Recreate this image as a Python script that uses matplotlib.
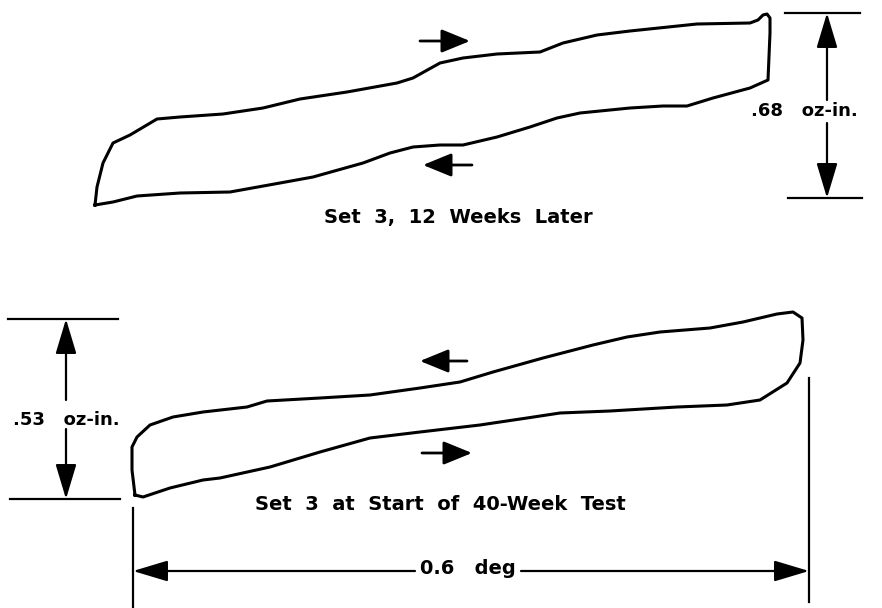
import matplotlib
matplotlib.use("Agg")
import matplotlib.pyplot as plt

# hysteresis loop outlines (pixel coords, y down)
top_loop_x = [95, 97, 103, 113, 130, 157, 180, 223, 263, 300, 347, 397, 413, 440, 463, 497,
              540, 563, 597, 630, 697, 750, 758, 763, 767, 770, 770, 768, 750, 713, 687, 663,
              630, 580, 557, 530, 497, 463, 440, 413, 390, 363, 313, 280, 230, 180, 137, 113, 95]
top_loop_y = [205, 187, 163, 143, 135, 119, 117, 114, 108, 99, 92, 83, 78, 63, 58, 54,
              52, 43, 35, 31, 24, 23, 20, 15, 14, 18, 33, 80, 88, 98, 106, 106,
              108, 113, 118, 127, 137, 145, 145, 147, 153, 163, 177, 183, 192, 193, 196, 202, 205]

bottom_loop_x = [135, 132, 132, 137, 150, 173, 203, 247, 267, 320, 370, 420, 460, 493, 543,
                 593, 627, 660, 710, 743, 777, 793, 802, 803, 800, 787, 760, 727, 677, 610,
                 560, 527, 500, 480, 420, 370, 320, 270, 220, 203, 170, 143, 135]
bottom_loop_y = [495, 470, 447, 437, 425, 417, 412, 407, 401, 398, 395, 388, 382, 372, 358,
                 345, 337, 332, 328, 322, 314, 312, 318, 340, 363, 383, 400, 405, 407, 411,
                 413, 418, 422, 425, 432, 438, 452, 467, 478, 480, 488, 497, 495]

top_title = "Set  3,  12  Weeks  Later"
bottom_title = "Set  3  at  Start  of  40-Week  Test"
top_span = ".68   oz-in."
bottom_span = ".53   oz-in."
width_span = "0.6   deg"

fig = plt.figure(figsize=(8.82, 6.08), dpi=100)
ax = fig.add_axes([0, 0, 1, 1])
ax.set_xlim(0, 882)
ax.set_ylim(608, 0)
ax.axis("off")

caption_font = dict(family="DejaVu Sans", weight="bold", size=14, color="black")
label_font = dict(family="DejaVu Sans", weight="bold", size=13, color="black")

# loops
ax.plot(top_loop_x, top_loop_y, color="black", lw=2.2, solid_joinstyle="round")
ax.plot(bottom_loop_x, bottom_loop_y, color="black", lw=2.2, solid_joinstyle="round")

def arrow(x0, y0, x1, y1, hl=1.2, hw=0.36, ms=18, lw=1.6):
    ax.annotate("", xy=(x1, y1), xytext=(x0, y0),
                arrowprops=dict(arrowstyle="-|>,head_length=%s,head_width=%s" % (hl, hw),
                                mutation_scale=ms, color="black", lw=lw,
                                shrinkA=0, shrinkB=0))

# direction arrows on the loops
arrow(420, 41, 470, 41, hl=1.1, hw=0.45, ms=16, lw=2)
arrow(472, 165, 423, 165, hl=1.1, hw=0.45, ms=16, lw=2)
arrow(467, 361, 420, 361, hl=1.1, hw=0.45, ms=16, lw=2)
arrow(422, 453, 472, 453, hl=1.1, hw=0.45, ms=16, lw=2)

# right dimension (top loop)
ax.plot([785, 860], [13, 13], color="black", lw=1.6)
ax.plot([788, 862], [198, 198], color="black", lw=1.6)
arrow(827, 100, 827, 13)
arrow(827, 123, 827, 198)
ax.text(804, 111, top_span, ha="center", va="center", **label_font)

# left dimension (bottom loop)
ax.plot([8, 118], [319, 319], color="black", lw=1.6)
ax.plot([10, 120], [499, 499], color="black", lw=1.6)
arrow(66, 400, 66, 319)
arrow(66, 429, 66, 499)
ax.text(66, 420, bottom_span, ha="center", va="center", **label_font)

# horizontal dimension
ax.plot([133, 133], [508, 608], color="black", lw=1.6)
ax.plot([809, 809], [378, 602], color="black", lw=1.6)
arrow(415, 571, 133, 571)
arrow(521, 571, 809, 571)
ax.text(468, 569, width_span, ha="center", va="center", **caption_font)

# captions
ax.text(458, 218, top_title, ha="center", va="center", **caption_font)
ax.text(440, 504, bottom_title, ha="center", va="center", **caption_font)

fig.savefig("out.png", dpi=100)
